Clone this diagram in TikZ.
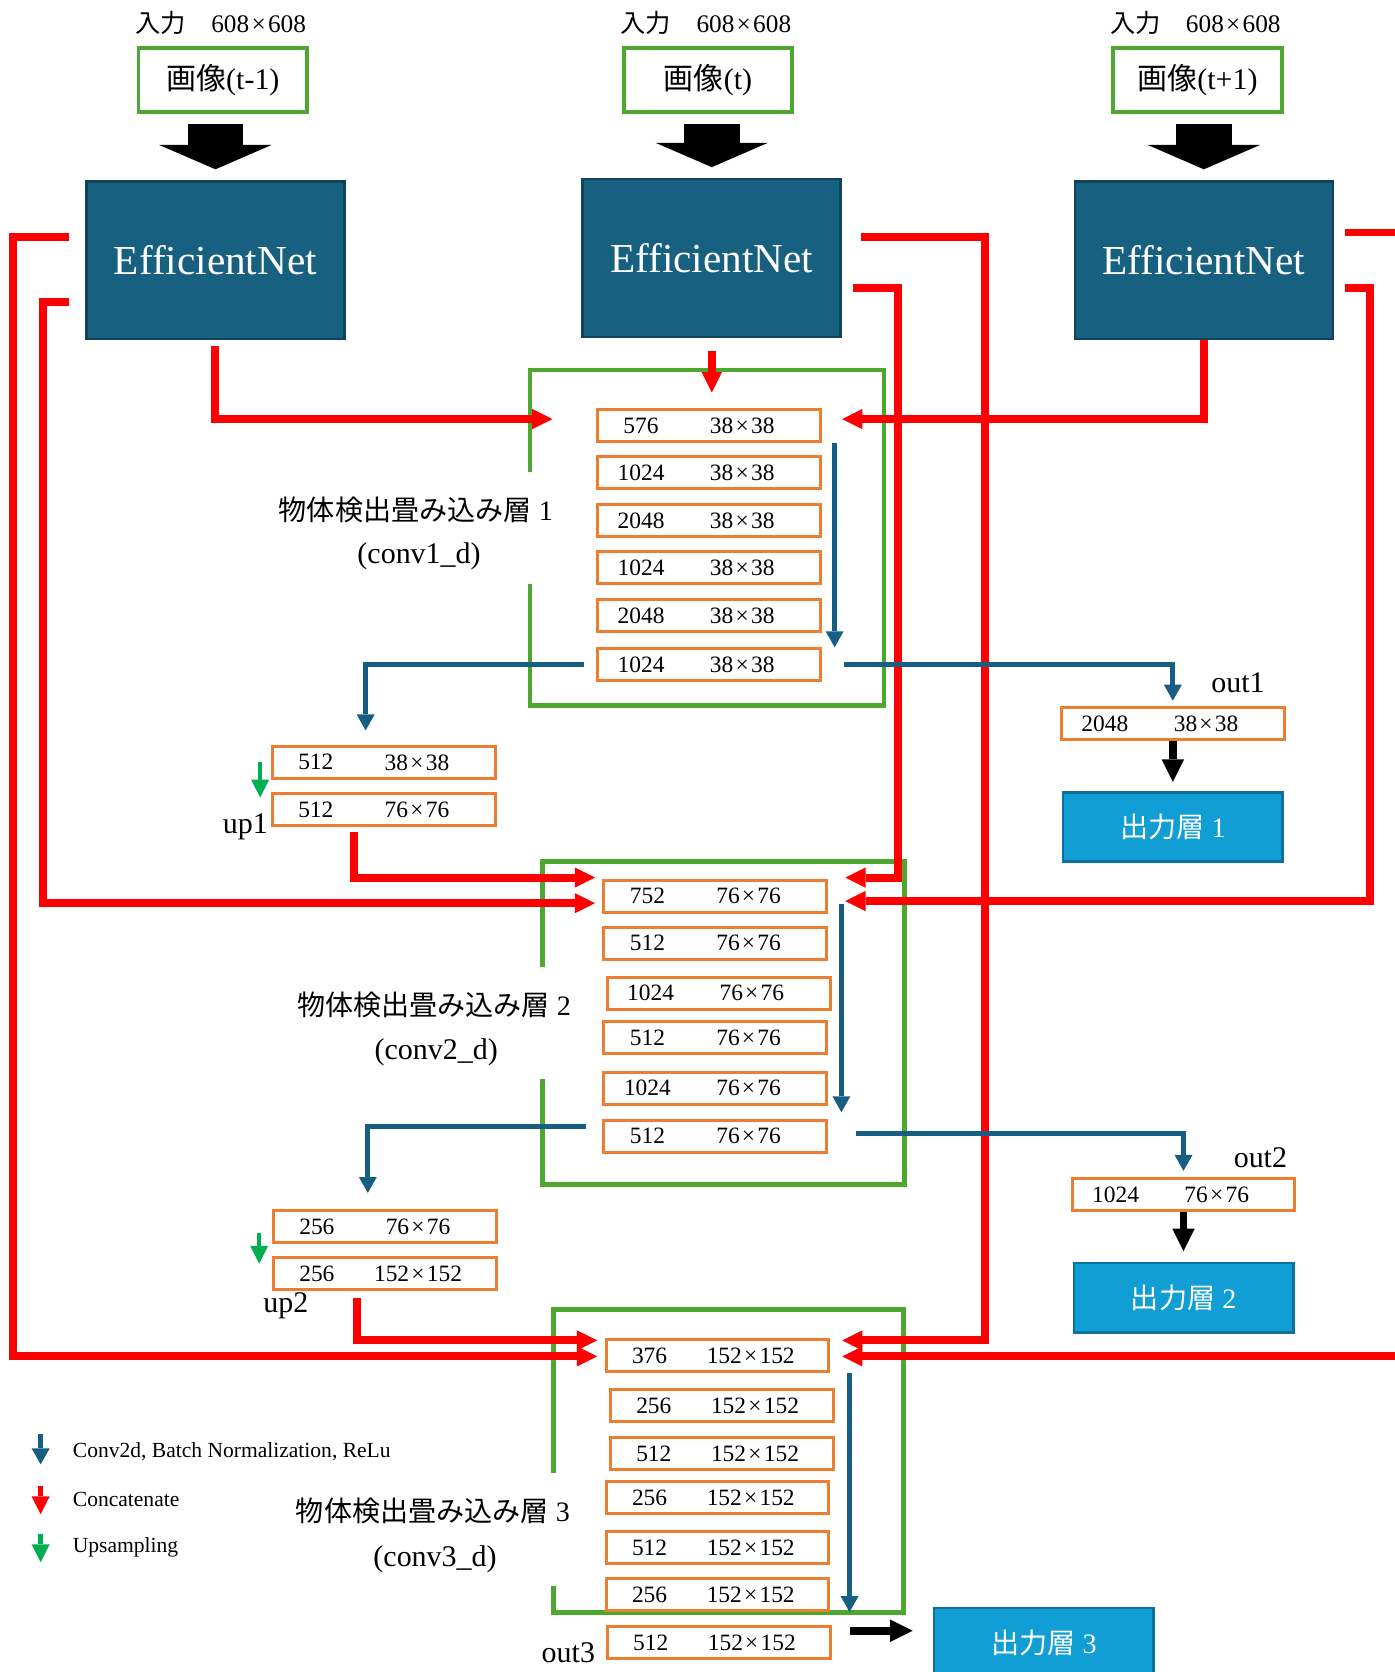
\documentclass[tikz,border=0pt]{standalone}
\usepackage{fontspec}
\setmainfont{Liberation Serif}
\newfontfamily\jp{Noto Sans CJK JP}
\usetikzlibrary{arrows.meta}

\definecolor{effblue}{RGB}{24,96,128}
\definecolor{effedge}{RGB}{16,66,92}
\definecolor{outblue}{RGB}{16,158,213}
\definecolor{outedge}{RGB}{14,112,156}
\definecolor{grpgreen}{RGB}{78,167,46}
\definecolor{layorange}{RGB}{237,125,49}
\definecolor{convblue}{RGB}{22,94,131}
\definecolor{catred}{RGB}{255,0,0}
\definecolor{upgreen}{RGB}{0,176,80}

\newcommand{\fs}[1]{\fontsize{#1pt}{#1pt}\selectfont}
\newcommand{\tms}{\hspace{1.2pt}×\hspace{1.2pt}}
%% one conv layer: name, x, y (top left), channels, size
\newcommand{\convlayer}[5]{%
  \node[layerbox] (#1) at (#2,#3) {};
  \node[laytext] (#1n) at ([xshift=24pt]#1.west) {#4};
  \node[laytext] (#1d) at ([xshift=78pt]#1.west) {#5};
}

\begin{document}
\begin{tikzpicture}[x=0.02cm, y=-0.02cm,
    inlab/.style={font=\fs{13.5}},
    inbox/.style={draw=grpgreen, line width=1.9pt, minimum width=3.16cm, minimum height=1.2cm, font=\fs{16}},
    effnet/.style={draw=effedge, fill=effblue, line width=1.4pt, minimum width=4.84cm, minimum height=2.96cm, text=white, font=\fs{22}},
    outbox/.style={draw=outedge, fill=outblue, line width=1.4pt, minimum width=4.12cm, minimum height=1.3cm, text=white, font=\fs{15}},
    layerbox/.style={draw=layorange, line width=1.6pt, minimum width=4.18cm, minimum height=0.6cm, inner sep=0pt, anchor=north west},
    laytext/.style={font=\fs{12.5}, inner sep=0pt},
    grplab/.style={font=\fs{15}},
    taglab/.style={font=\fs{16}},
    legtext/.style={font=\fs{11.5}, anchor=west, inner sep=0pt},
    grpframe/.style={draw=grpgreen, line width=2.6pt},
    bigarr/.style={draw=black, line width=29.6pt, shorten <=5.7pt, shorten >=5.7pt, -{Triangle[length=13pt, width=60pt, line width=0pt]}},
    outarr/.style={draw=black, line width=4pt, -{Triangle[length=12pt, width=12pt, line width=0pt]}},
    concat/.style={draw=catred, line width=4.2pt, -{Triangle[length=10.8pt, width=10.8pt, line width=0pt]}},
    conv/.style={draw=convblue, line width=2.8pt, -{Triangle[length=8.5pt, width=9.6pt, line width=0pt]}},
    upsam/.style={draw=upgreen, line width=2.4pt, -{Triangle[length=9.5pt, width=9.6pt, line width=0pt]}}]

  \useasboundingbox (0,0) rectangle (1308,1568);

  %% inputs
  \foreach \x/\t [count=\i] in {209/t-1, 664/t, 1123/t+1} {
    \node[inlab] (lab\i) at (\x-2,22) {{\jp 入力}\quad 608\tms 608};
    \node[inbox] (in\i) at (\x,75) {{\jp 画像}(\t)};
  }

  %% backbones
  \foreach \x/\y [count=\i] in {202/244, 667.5/242, 1129/244} {
    \node[effnet] (eff\i) at (\x,\y) {EfficientNet};
    \draw[bigarr] (eff\i.north |- in\i.south) -- (eff\i.north);
  }

  %% conv1_d
  \draw[grpframe] (497,443) -- (497,347) -- (829,347) -- (829,662) -- (497,662) -- (497,548);
  \node[grplab] (g1a) at (390,478) {{\jp 物体検出畳み込み層} 1};
  \node[grplab, font=\fs{16}] (g1b) at (393,522) {(conv1\_d)};
  \foreach \y/\c [count=\i] in {383/576, 427/1024, 472/2048, 516/1024, 561/2048, 607/1024}
    {\convlayer{ca\i}{559}{\y}{\c}{38\tms 38}}

  %% conv2_d
  \draw[grpframe] (509,907) -- (509,808) -- (848,808) -- (848,1111) -- (509,1111) -- (509,1012);
  \node[grplab] (g2a) at (407,942) {{\jp 物体検出畳み込み層} 2};
  \node[grplab, font=\fs{16}] (g2b) at (409,987) {(conv2\_d)};
  \foreach \x/\y/\c [count=\i] in {565/824/752, 565/868/512, 568/915/1024, 565/957/512, 565/1004/1024, 565/1049/512}
    {\convlayer{cb\i}{\x}{\y}{\c}{76\tms 76}}

  %% conv3_d
  \draw[grpframe] (519,1381) -- (519,1228) -- (847,1228) -- (847,1512) -- (519,1512) -- (519,1487);
  \node[grplab] (g3a) at (406,1417) {{\jp 物体検出畳み込み層} 3};
  \node[grplab, font=\fs{16}] (g3b) at (408,1462) {(conv3\_d)};
  \foreach \x/\y/\c [count=\i] in {567/1255/376, 571/1302/256, 571/1347/512, 567/1388/256, 567/1435/512, 567/1479/256, 568/1524/512}
    {\convlayer{cc\i}{\x}{\y}{\c}{152\tms 152}}

  %% up / out layers
  \convlayer{u1a}{254}{698.5}{512}{38\tms 38}
  \convlayer{u1b}{254}{743}{512}{76\tms 76}
  \convlayer{u2a}{255}{1134}{256}{76\tms 76}
  \convlayer{u2b}{255}{1178}{256}{152\tms 152}
  \convlayer{ou1}{994}{662}{2048}{38\tms 38}
  \convlayer{ou2}{1004}{1104}{1024}{76\tms 76}

  \node[taglab] (t1) at (230,775) {up1};
  \node[taglab] (t2) at (268,1225) {up2};
  \node[taglab] (t3) at (1161,640) {out1};
  \node[taglab] (t4) at (1182,1086) {out2};
  \node[taglab] (t5) at (533,1550) {out3};

  \node[outbox] (o1) at (1100,775.5) {{\jp 出力層} 1};
  \node[outbox] (o2) at (1110,1217) {{\jp 出力層} 2};
  \node[outbox] (o3) at (979,1540.5) {{\jp 出力層} 3};

  %% concatenate
  \draw[concat, shorten <=2.8pt, shorten >=23.3pt] (eff1.south) |- (ca1.west |- 0,393);
  \draw[concat, shorten <=6.8pt, shorten >=8.5pt] (eff2.south) -- (eff2.south |- ca1.north);
  \draw[concat, shorten >=10.8pt] (eff3.south) |- (ca1.east |- 0,393);
  \draw[concat, shorten <=8.5pt, shorten >=4pt] (eff1.west |- 0,222) -| (12,1272) -- (cc1.west |- 0,1272);
  \draw[concat, shorten <=8.5pt, shorten >=4pt] (eff1.west |- 0,283) -| (40,847) -- (cb1.west |- 0,847);
  \draw[concat, shorten <=10.2pt, shorten >=6.3pt] (eff2.east |- 0,222) -| (924,1257) -- (cc1.east |- 0,1257);
  \draw[concat, shorten <=5.7pt, shorten >=9.1pt] (eff2.east |- 0,270) -| (842,823) -- (cb1.east |- 0,823);
  \draw[concat, shorten <=5.7pt, shorten >=6.3pt] (eff3.east |- 0,218) -| (1340,1272) -- (cc1.east |- 0,1272);
  \draw[concat, shorten <=5.7pt, shorten >=9.1pt] (eff3.east |- 0,270) -| (1285,845) -- (cb1.east |- 0,845);
  \draw[concat, shorten <=2.3pt, shorten >=4pt] ([xshift=44.4pt]u1b.south west) |- (cb1.west |- 0,823);
  \draw[concat, shorten <=3.5pt, shorten >=4pt] ([xshift=45.5pt]u2b.south west) |- (cc1.west |- 0,1257);

  %% conv
  \draw[conv] ([xshift=6.8pt]ca1.south east) -- ([xshift=6.8pt]ca6.north east);
  \draw[conv, shorten <=6.3pt, shorten >=7.7pt] (ca6.west) -| ([xshift=50.6pt]u1a.north west);
  \draw[conv, shorten <=12pt, shorten >=2.8pt] (ca6.east) -| (ou1.north);
  \draw[conv, shorten <=4pt, shorten >=3.4pt] ([xshift=7pt]cb1.east) -- ([xshift=7pt]cb6.north east);
  \draw[conv, shorten <=8.8pt, shorten >=8.7pt] ([yshift=5pt]cb6.west) -| ([xshift=51.2pt]u2a.north west);
  \draw[conv, shorten <=14.6pt, shorten >=3.4pt] ([yshift=1.4pt]cb6.east) -| (ou2.north);
  \draw[conv, line width=2.4pt] ([xshift=10.2pt]cc1.south east) -- ([xshift=10.2pt]cc6.south east);

  %% outputs
  \draw[outarr, shorten >=4.9pt] (ou1.south) -- (ou1.south |- o1.north);
  \draw[outarr, shorten >=5.7pt] (ou2.south) -- (ou2.south |- o2.north);
  \draw[outarr, shorten <=9.7pt, shorten >=10.8pt] ([yshift=6.3pt]cc7.east) -- ([yshift=6.3pt]cc7.east -| o3.west);

  %% upsampling
  \draw[upsam] ([xshift=-5.7pt]u1a.west) -- ([xshift=-5.7pt, yshift=-2.8pt]u1b.north west);
  \draw[upsam] ([xshift=-6.8pt, yshift=-3.4pt]u2a.west) -- ([xshift=-6.8pt, yshift=-4pt]u2b.north west);

  %% legend
  \node[legtext] (lg1) at (68,1361) {Conv2d, Batch Normalization, ReLu};
  \node[legtext] (lg2) at (68,1406) {Concatenate};
  \node[legtext] (lg3) at (68,1451) {Upsampling};
  \draw[conv, line width=2.4pt] ([xshift=-17pt, yshift=9pt]lg1.west) -- ([xshift=-17pt, yshift=-7pt]lg1.west);
  \draw[concat, line width=2.4pt, -{Triangle[length=9.5pt, width=9.6pt, line width=0pt]}] ([xshift=-17pt, yshift=7pt]lg2.west) -- ([xshift=-17pt, yshift=-8pt]lg2.west);
  \draw[upsam] ([xshift=-17pt, yshift=7pt]lg3.west) -- ([xshift=-17pt, yshift=-8pt]lg3.west);

\end{tikzpicture}
\end{document}
